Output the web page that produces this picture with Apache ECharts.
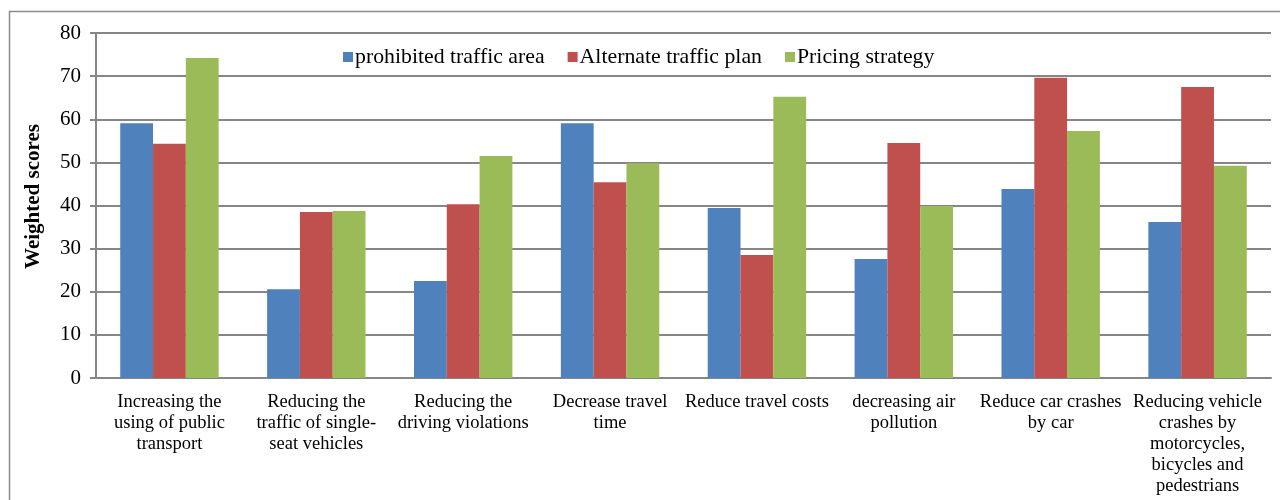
<!DOCTYPE html>
<html>
<head>
<meta charset="utf-8">
<script src="https://cdn.jsdelivr.net/npm/echarts@6/dist/echarts.min.js"></script>
<style>
html,body{margin:0;padding:0;background:#fff;}
#c{width:1280px;height:500px;}
</style>
</head>
<body>
<div id="c"></div>
<script>
const categories = [
  "Increasing the\nusing of public\ntransport",
  "Reducing the\ntraffic of single-\nseat vehicles",
  "Reducing the\ndriving violations",
  "Decrease travel\ntime",
  "Reduce travel costs",
  "decreasing air\npollution",
  "Reduce car crashes\nby car",
  "Reducing vehicle\ncrashes by\nmotorcycles,\nbicycles and\npedestrians"
];
const seriesNames = ["prohibited traffic area", "Alternate traffic plan", "Pricing strategy"];
const prohibited = [59.1, 20.6, 22.5, 59.1, 39.4, 27.6, 43.8, 36.2];
const alternate = [54.3, 38.5, 40.3, 45.4, 28.5, 54.5, 69.6, 67.5];
const pricing = [74.2, 38.7, 51.5, 49.8, 65.2, 39.9, 57.3, 49.2];
const yTicks = [0, 10, 20, 30, 40, 50, 60, 70, 80];
const yAxisTitle = "Weighted scores";

const colors = ["#4f81bd", "#c0504d", "#9bbb59"];
const font = "'Liberation Serif', 'Times New Roman', serif";
const chart = echarts.init(document.getElementById('c'), null, {renderer: 'canvas'});
const dataSets = [prohibited, alternate, pricing];
chart.setOption({
  animation: false,
  textStyle: {fontFamily: font},
  graphic: [{
    type: 'polyline',
    shape: {points: [[9.5, 500], [9.5, 11.5], [1280, 11.5]]},
    style: {stroke: '#8c8c8c', lineWidth: 1.5, fill: null},
    silent: true
  }],
  legend: {
    left: 338, top: 41,
    itemWidth: 10, itemHeight: 10, itemGap: 23,
    icon: 'rect',
    textStyle: {fontFamily: font, fontSize: 21.8, color: '#000', padding: [0, 0, 0, -3]},
    data: seriesNames
  },
  grid: {left: 96, right: 9, top: 33, bottom: 122, containLabel: false},
  xAxis: {
    type: 'category',
    data: categories,
    axisLine: {lineStyle: {color: '#868686', width: 2}},
    axisTick: {show: false},
    axisLabel: {fontFamily: font, fontSize: 18.5, color: '#000', lineHeight: 21, margin: 14, interval: 0}
  },
  yAxis: {
    type: 'value',
    min: yTicks[0], max: yTicks[yTicks.length - 1], interval: 10,
    name: yAxisTitle,
    nameLocation: 'middle',
    nameGap: 52,
    nameRotate: 90,
    nameTextStyle: {fontFamily: font, fontSize: 21, fontWeight: 'bold', color: '#000', padding: [0, 0, 0, 18]},
    axisLine: {show: true, lineStyle: {color: '#868686', width: 2}},
    axisTick: {show: true, inside: false, length: 6, lineStyle: {color: '#868686', width: 2}},
    axisLabel: {fontFamily: font, fontSize: 21, color: '#000', margin: 15},
    splitLine: {lineStyle: {color: '#868686', width: 2}}
  },
  series: seriesNames.map((n, i) => ({
    name: n,
    type: 'bar',
    data: dataSets[i],
    barGap: '0%',
    barCategoryGap: '33%',
    itemStyle: {color: colors[i]}
  }))
});
</script>
</body>
</html>
